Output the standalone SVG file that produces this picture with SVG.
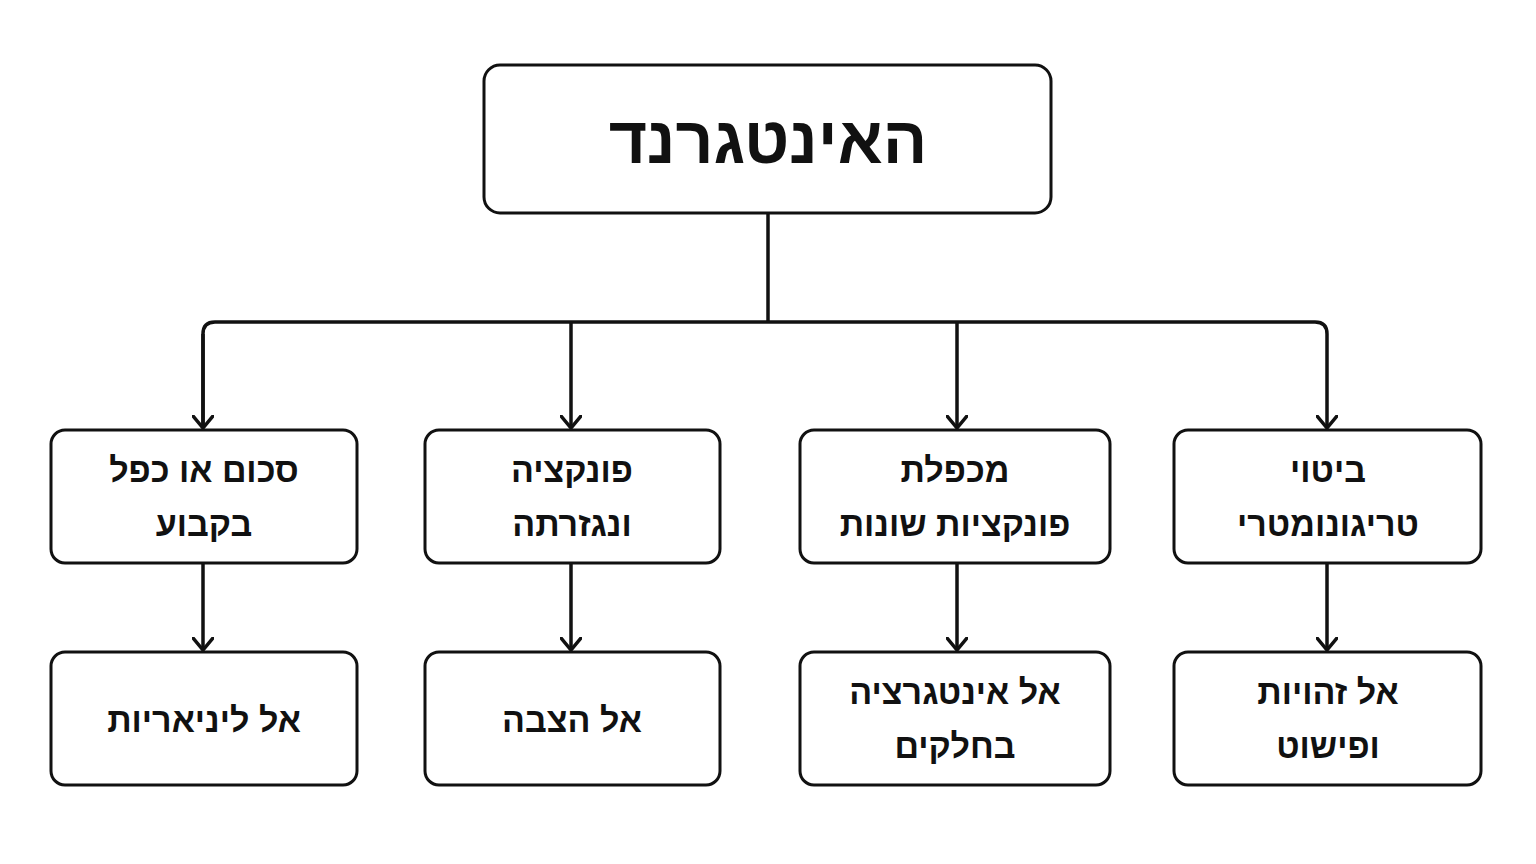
<svg xmlns="http://www.w3.org/2000/svg" width="1536" height="864" viewBox="0 0 1536 864">
<defs>
<style>
.box{fill:#fff;stroke:#111;stroke-width:3}
.t{font-family:"Liberation Sans","DejaVu Sans",sans-serif;font-weight:bold;font-size:34px;fill:#111;text-anchor:middle}
.c{fill:none;stroke:#111;stroke-width:3.5;stroke-linejoin:round}
</style>
<marker id="a" viewBox="0 0 14 22" refX="13" refY="11" markerWidth="14" markerHeight="22" markerUnits="userSpaceOnUse" orient="auto">
<path d="M1 1 L13 11 L1 21" fill="none" stroke="#111" stroke-width="3.5" stroke-linecap="round" stroke-linejoin="round"/>
</marker>
</defs>
<rect width="1536" height="864" fill="#fff"/>
<g id="connectors">
<path class="c" d="M768 213 V322"/>
<path class="c" d="M203 428 V334 Q203 322 215 322 H1315 Q1327 322 1327 334 V428" marker-end="url(#a)"/>
<path class="c" d="M203 334 V428" marker-end="url(#a)"/>
<path class="c" d="M571 322 V428" marker-end="url(#a)"/>
<path class="c" d="M957 322 V428" marker-end="url(#a)"/>
<path class="c" d="M203 563 V650" marker-end="url(#a)"/>
<path class="c" d="M571 563 V650" marker-end="url(#a)"/>
<path class="c" d="M957 563 V650" marker-end="url(#a)"/>
<path class="c" d="M1327 563 V650" marker-end="url(#a)"/>
</g>
<g id="root"><rect class="box" x="484" y="65" width="567" height="148" rx="16"/><text class="t" x="768" y="163" style="font-size:66px">האינטגרנד</text></g>
<g id="n1"><rect class="box" x="51" y="430" width="306" height="133" rx="14"/><text class="t" x="204" y="482">סכום או כפל</text><text class="t" x="204" y="536">בקבוע</text></g>
<g id="n2"><rect class="box" x="425" y="430" width="295" height="133" rx="14"/><text class="t" x="572" y="482">פונקציה</text><text class="t" x="572" y="536">ונגזרתה</text></g>
<g id="n3"><rect class="box" x="800" y="430" width="310" height="133" rx="14"/><text class="t" x="955" y="482">מכפלת</text><text class="t" x="955" y="536">פונקציות שונות</text></g>
<g id="n4"><rect class="box" x="1174" y="430" width="307" height="133" rx="14"/><text class="t" x="1328" y="482">ביטוי</text><text class="t" x="1328" y="536">טריגונומטרי</text></g>
<g id="m1"><rect class="box" x="51" y="652" width="306" height="133" rx="14"/><text class="t" x="204" y="732">אל ליניאריות</text></g>
<g id="m2"><rect class="box" x="425" y="652" width="295" height="133" rx="14"/><text class="t" x="572" y="732">אל הצבה</text></g>
<g id="m3"><rect class="box" x="800" y="652" width="310" height="133" rx="14"/><text class="t" x="955" y="704">אל אינטגרציה</text><text class="t" x="955" y="758">בחלקים</text></g>
<g id="m4"><rect class="box" x="1174" y="652" width="307" height="133" rx="14"/><text class="t" x="1328" y="704">אל זהויות</text><text class="t" x="1328" y="758">ופישוט</text></g>
</svg>
